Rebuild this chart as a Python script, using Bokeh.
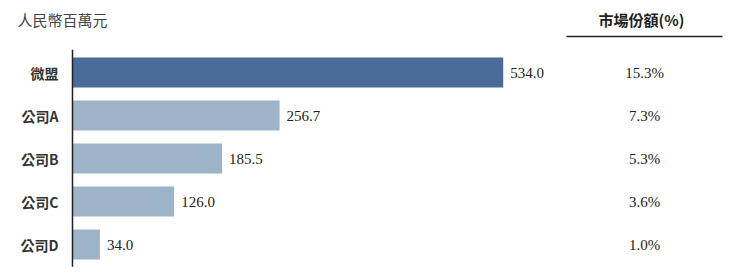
from bokeh.plotting import figure
from bokeh.models import ColumnDataSource, Range1d, Label, Arrow
from bokeh.core.properties import value
from bokeh.embed import file_html
from bokeh.resources import INLINE

categories = ["微盟", "公司A", "公司B", "公司C", "公司D"]
revenue = [534.0, 256.7, 185.5, 126.0, 34.0]
share = [15.3, 7.3, 5.3, 3.6, 1.0]
unit_label = "人民幣百萬元"
share_header = "市場份額(%)"

bar_colors = ["#4B6B98"] + ["#9DB3C8"] * (len(categories) - 1)

src = ColumnDataSource(dict(
    y=list(range(len(categories))),
    cat=categories,
    val=revenue,
    val_txt=[f"{v:.1f}" for v in revenue],
    pct_txt=[f"{s:.1f}%" for s in share],
    color=bar_colors,
    zero=[0] * len(categories),
))

W, H = 730, 280
px_per_unit = 0.8066
x0_px = 72
row_px = 43
first_px = 72

p = figure(width=W, height=H, output_backend="svg", toolbar_location=None,
           min_border=0, outline_line_color=None,
           x_range=Range1d(-x0_px / px_per_unit, (W - x0_px) / px_per_unit),
           y_range=Range1d((H - first_px) / row_px, -first_px / row_px))
p.axis.visible = False
p.grid.visible = False
p.background_fill_color = "white"
p.border_fill_color = "white"

p.hbar(y="y", left="zero", right="val", height=0.70, fill_color="color",
       line_color=None, source=src)

# baseline axis line
n = len(categories)
p.segment(x0=[0], x1=[0], y0=[-0.53], y1=[n - 1 + 0.52], line_color="#222222", line_width=1.5)

serif = value("Liberation Serif")
cjk = value("Noto Sans CJK TC")

p.text(x="val", y="y", text="val_txt", source=src, x_offset=7,
       text_align="left", text_baseline="middle", text_font=serif,
       text_font_size="15px", text_color="#222222")

p.text(x="zero", y="y", text="cat", source=src, x_offset=-14,
       text_align="right", text_baseline="middle", text_font=cjk,
       text_font_size="14px", text_font_style="bold", text_color="#333333")

pct_x = (644 - x0_px) / px_per_unit
p.text(x=pct_x, y="y", text="pct_txt", source=src,
       text_align="center", text_baseline="middle", text_font=serif,
       text_font_size="15px", text_color="#222222")

p.add_layout(Label(x=17, y=H - 19, x_units="screen", y_units="screen", text=unit_label,
                   text_font="Noto Sans CJK TC", text_font_size="15px",
                   text_color="#444444", text_baseline="middle", text_align="left"))
p.add_layout(Label(x=641, y=H - 19, x_units="screen", y_units="screen", text=share_header,
                   text_font="Noto Sans CJK TC", text_font_size="15px", text_font_style="bold",
                   text_color="#222222", text_baseline="middle", text_align="center"))
p.add_layout(Arrow(x_start=566, y_start=H - 36, x_end=722, y_end=H - 36,
                   start_units="screen", end_units="screen", end=None, start=None,
                   line_color="#222222", line_width=1.5))

open("out.html", "w").write(file_html(p, INLINE))
